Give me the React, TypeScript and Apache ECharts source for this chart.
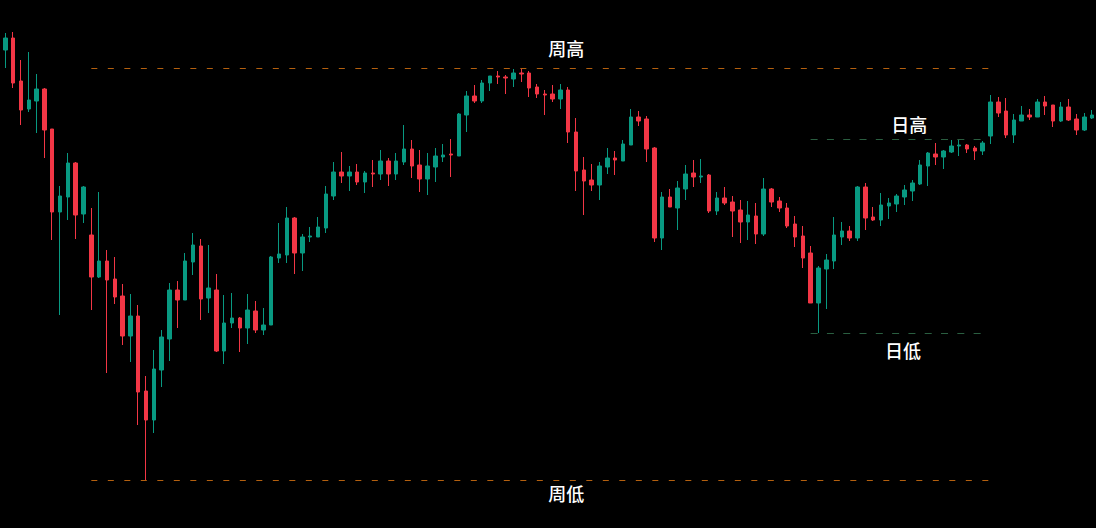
import React, { useEffect, useRef } from "react";
import * as echarts from "echarts";

// 15-minute bars (date + time, unique)
const categories: string[] = [];
for (let i = 0; i < 140; i++) {
  const m = 9 * 60 + i * 15;
  const d = 12 + Math.floor(m / 1440);
  const h = Math.floor((m % 1440) / 60);
  const mm = m % 60;
  categories.push(`05-${d} ${String(h).padStart(2, "0")}:${String(mm).padStart(2, "0")}`);
}

const opens = [
  147.8, 149.0, 144.7, 141.9, 142.7, 143.9, 139.9, 131.6, 133.1, 136.5,
  131.4, 129.3, 125.1, 126.7, 124.9, 123.2, 119.2, 121.2, 113.7, 110.8,
  115.8, 118.9, 123.8, 122.8, 126.6, 128.2, 123.0, 123.8, 117.7, 120.5,
  121.0, 120.0, 121.7, 119.8, 120.3, 127.0, 127.3, 131.0, 127.5, 129.1,
  129.1, 130.0, 133.2, 135.6, 135.2, 135.6, 134.6, 135.5, 135.4, 136.7,
  135.4, 136.6, 137.9, 136.3, 134.9, 136.1, 137.1, 137.4, 137.2, 141.3,
  143.2, 142.7, 144.5, 145.2, 145.1, 144.9, 145.5, 145.5, 144.1, 143.4,
  143.4, 142.9, 143.8, 139.6, 135.8, 134.8, 134.3, 136.1, 137.0, 136.7,
  138.3, 141.1, 140.9, 138.0, 129.0, 133.1, 132.0, 133.9, 135.5, 135.1,
  135.3, 131.7, 133.0, 132.6, 131.8, 130.6, 131.2, 129.4, 133.9, 132.7,
  132.0, 130.4, 129.2, 127.5, 122.5, 125.9, 126.7, 129.1, 129.7, 129.0,
  134.1, 131.1, 130.8, 132.2, 132.4, 133.1, 133.7, 134.4, 136.2, 137.4,
  137.1, 137.6, 138.2, 138.3, 138.0, 137.7, 139.2, 142.6, 141.7, 139.3,
  140.7, 141.3, 141.1, 142.6, 142.3, 140.7, 142.1, 140.9, 139.8, 141.0,
];

const closes = [
  149.0, 144.5, 141.8, 142.8, 143.9, 139.8, 131.6, 133.2, 136.5, 131.3,
  134.1, 125.1, 126.7, 124.8, 123.1, 119.2, 121.2, 113.6, 110.8, 115.9,
  119.1, 123.8, 122.8, 126.7, 128.3, 122.9, 124.0, 117.7, 120.5, 121.0,
  120.0, 121.8, 119.8, 120.3, 127.1, 127.4, 131.0, 127.5, 129.1, 129.2,
  130.1, 133.4, 135.6, 135.2, 135.6, 134.6, 135.5, 135.4, 136.7, 135.4,
  136.7, 137.9, 136.2, 134.9, 136.2, 137.2, 137.3, 137.3, 141.4, 143.2,
  142.7, 144.5, 145.2, 145.1, 145.0, 145.5, 145.4, 144.0, 143.4, 143.3,
  142.9, 143.8, 139.6, 135.7, 134.7, 134.3, 136.2, 137.0, 136.8, 138.4,
  141.1, 140.7, 137.9, 129.0, 133.1, 132.1, 134.0, 135.4, 135.1, 135.2,
  131.7, 133.0, 132.5, 131.7, 130.6, 131.3, 129.4, 133.9, 132.6, 132.0,
  130.2, 129.1, 127.0, 122.5, 126.0, 126.8, 129.3, 129.7, 129.0, 134.1,
  131.0, 130.8, 132.3, 132.5, 133.2, 133.8, 134.5, 136.3, 137.5, 137.1,
  137.7, 138.2, 138.3, 137.9, 137.7, 138.5, 142.6, 141.5, 139.3, 140.8,
  141.3, 141.1, 142.6, 142.2, 140.7, 142.1, 140.8, 139.8, 141.1, 141.3,
];

const lows = [
  146.0, 144.0, 140.3, 141.6, 139.5, 137.0, 128.8, 121.3, 130.8, 128.9,
  130.5, 121.8, 125.0, 115.5, 122.4, 118.3, 116.6, 110.3, 104.8, 109.5,
  114.1, 116.7, 120.0, 122.8, 125.3, 120.8, 121.5, 117.6, 116.4, 120.0,
  117.6, 118.4, 119.5, 119.3, 120.3, 126.5, 126.5, 125.4, 125.7, 128.6,
  129.1, 129.5, 132.8, 134.5, 133.7, 134.3, 133.5, 134.1, 134.8, 134.2,
  134.8, 136.3, 135.0, 133.6, 133.3, 134.6, 136.6, 135.1, 137.2, 139.6,
  142.5, 142.5, 143.7, 144.4, 143.4, 144.1, 144.6, 143.1, 143.0, 141.3,
  142.6, 141.9, 138.5, 133.7, 131.3, 133.7, 132.8, 135.4, 135.3, 136.7,
  138.3, 140.2, 136.6, 128.6, 127.8, 132.1, 129.8, 132.8, 134.1, 134.5,
  131.5, 131.3, 132.3, 129.1, 128.5, 128.8, 128.4, 129.2, 132.1, 131.6,
  130.0, 128.1, 126.0, 122.5, 119.5, 121.9, 125.9, 128.3, 128.7, 128.7,
  129.8, 130.7, 130.2, 130.9, 131.6, 132.3, 132.7, 134.3, 134.2, 136.3,
  135.9, 137.5, 137.2, 137.5, 136.8, 137.3, 138.4, 141.1, 139.0, 138.5,
  140.7, 140.8, 141.1, 141.3, 140.1, 140.6, 140.7, 139.3, 139.7, 140.9,
];

const highs = [
  149.5, 149.6, 146.8, 147.6, 145.4, 144.0, 139.9, 134.2, 137.5, 136.6,
  134.2, 132.0, 133.6, 127.8, 127.1, 124.4, 123.4, 122.3, 115.2, 117.8,
  119.8, 124.5, 124.7, 127.5, 129.5, 128.9, 128.3, 125.4, 123.3, 123.5,
  121.1, 123.4, 122.7, 122.0, 127.2, 130.5, 132.1, 131.1, 129.4, 130.1,
  131.1, 134.2, 136.6, 137.6, 136.2, 136.4, 135.7, 136.8, 137.8, 137.0,
  137.5, 140.3, 138.8, 137.8, 137.5, 138.0, 138.4, 138.9, 141.5, 143.7,
  144.3, 144.8, 145.2, 145.7, 145.3, 145.9, 146.0, 145.7, 144.4, 143.8,
  144.3, 144.4, 144.1, 141.0, 137.1, 136.4, 136.6, 138.0, 137.7, 138.8,
  141.9, 141.7, 141.2, 138.1, 133.6, 133.9, 134.7, 136.3, 136.8, 136.9,
  135.4, 133.6, 134.1, 133.2, 132.8, 132.7, 132.5, 135.0, 134.0, 133.1,
  132.5, 131.2, 130.2, 128.2, 126.2, 127.4, 131.1, 130.6, 130.2, 134.2,
  134.5, 132.1, 133.5, 133.0, 133.4, 134.3, 134.8, 136.8, 137.6, 138.5,
  137.8, 138.8, 138.9, 138.4, 138.2, 138.7, 143.3, 143.1, 143.0, 141.4,
  142.2, 141.9, 142.9, 143.2, 142.3, 142.6, 142.9, 141.4, 141.5, 141.8,
];

// reference levels
const weekHigh = 146.0;
const weekLow = 104.8;
const dayHigh = 138.9;
const dayLow = 119.5;
const weekRange = [11, 126]; // bar indices where week lines start / end
const dayRange = [103, 125];

const UP = "#089981";
const DOWN = "#f23645";

export default function App() {
  const ref = useRef<HTMLDivElement>(null);

  useEffect(() => {
    if (!ref.current) return;
    const chart = echarts.init(ref.current, undefined, { renderer: "svg" });
    const data = opens.map((o, i) => [o, closes[i], lows[i], highs[i]]);

    const weekLine = { color: "#b4600f", width: 1, type: [6, 10.5] as any, opacity: 1 };
    const dayLine = { color: "#2a5e40", width: 1, type: [7, 9.3] as any, opacity: 1 };

    const seg = (range: number[], v: number, style: any) => [
      { coord: [range[0], v], lineStyle: style },
      { coord: [range[1], v], lineStyle: style },
    ];

    const labelStyle = {
      show: true,
      position: "inside",
      color: "#ffffff",
      fontSize: 18,
      fontFamily: "Noto Sans CJK SC",
      fontWeight: 500,
    };

    chart.setOption({
      animation: false,
      backgroundColor: "#000000",
      grid: { left: 1.4, right: 0, top: 0, bottom: 0 },
      xAxis: {
        type: "category",
        data: categories,
        show: false,
        boundaryGap: true,
      },
      yAxis: {
        type: "value",
        min: 100,
        max: 152.8,
        show: false,
        splitLine: { show: false },
      },
      series: [
        {
          type: "candlestick",
          data,
          barWidth: 4,
          itemStyle: {
            color: UP,
            color0: DOWN,
            borderColor: UP,
            borderColor0: DOWN,
            borderWidth: 1,
          },
          markLine: {
            silent: true,
            symbol: ["none", "none"],
            label: { show: false },
            lineStyle: weekLine,
            data: [seg(weekRange, weekHigh, weekLine), seg(weekRange, weekLow, weekLine)],
          },
          markPoint: {
            silent: true,
            symbol: "circle",
            symbolSize: 0,
            itemStyle: { color: "transparent" },
            data: [
              { coord: [72, 148.0], label: { ...labelStyle, formatter: "周高", offset: [-2, 0] } },
              { coord: [72, 103.5], label: { ...labelStyle, formatter: "周低", offset: [-2, 0] } },
              { coord: [116, 140.4], label: { ...labelStyle, formatter: "日高", offset: [-3, 0] } },
              { coord: [115, 117.8], label: { ...labelStyle, formatter: "日低", offset: [-1.5, 0] } },
            ],
          },
        },
        {
          type: "line",
          data: [],
          silent: true,
          markLine: {
            silent: true,
            symbol: ["none", "none"],
            label: { show: false },
            lineStyle: dayLine,
            data: [seg(dayRange, dayHigh, dayLine), seg(dayRange, dayLow, dayLine)],
          },
        },
      ],
    });

    return () => chart.dispose();
  }, []);

  return (
    <div
      ref={ref}
      style={{
        position: "fixed",
        left: 0,
        top: 0,
        width: 1096,
        height: 528,
        background: "#000",
      }}
    />
  );
}
